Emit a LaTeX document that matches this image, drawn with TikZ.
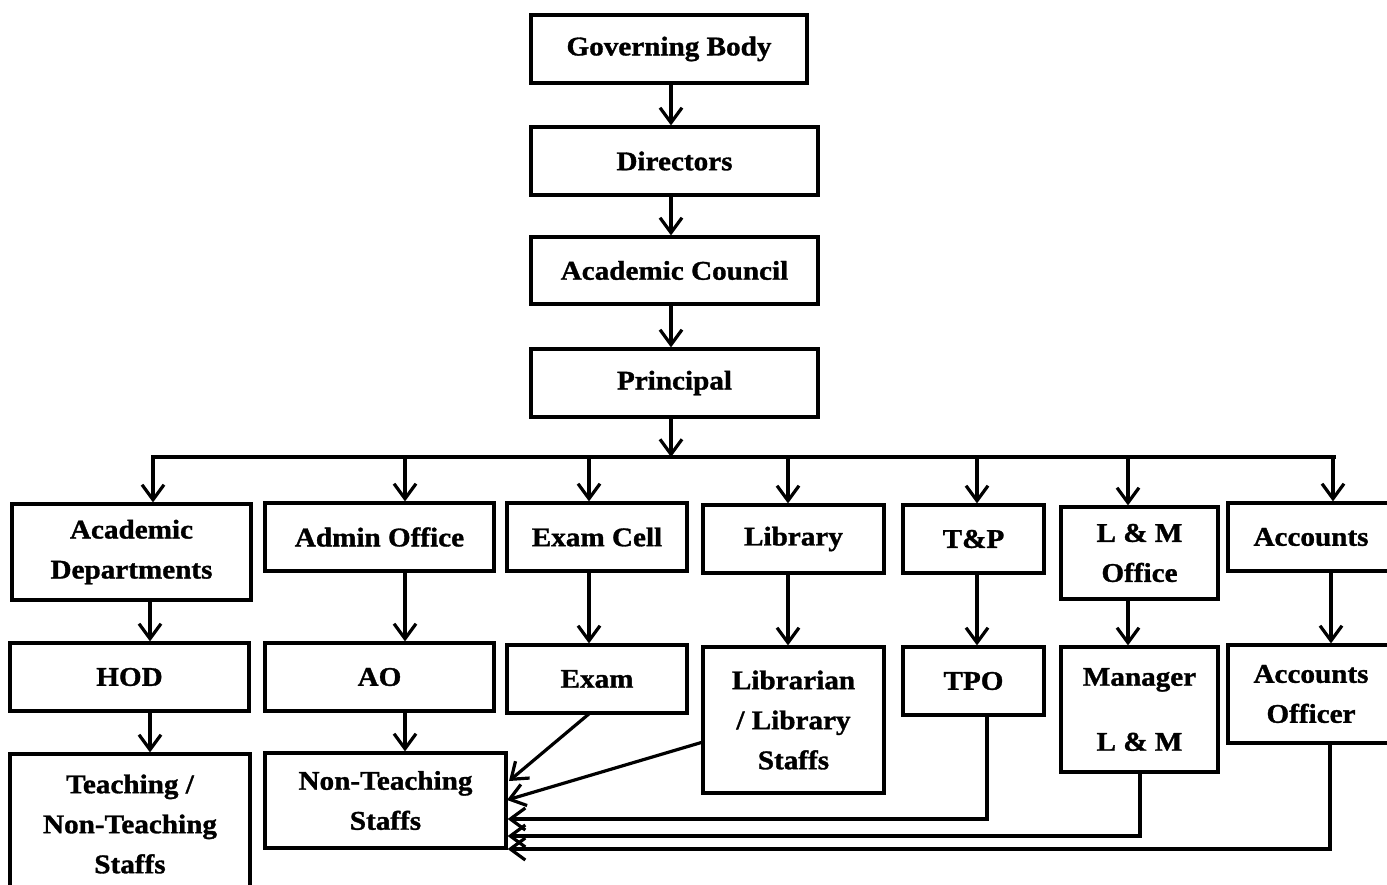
\documentclass[tikz,border=0pt]{standalone}
\usepackage{fontspec}
\setmainfont{Liberation Serif}[FakeStretch=1.08, BoldFeatures={FakeBold=1.2}]
\usetikzlibrary{arrows.meta}
\begin{document}
\begin{tikzpicture}[x=1pt,y=-1pt,
  box/.style={draw, line width=3.2pt, rectangle, inner sep=0pt, align=center,
    font=\bfseries\fontsize{27}{40}\selectfont},
  arr/.style={line width=3.2pt, -{Straight Barb[length=15pt,width=22pt,line width=3.2pt]}},
  ln/.style={line width=3.2pt}]
\path[use as bounding box] (0,0) rectangle (1387,884);
% top column
\node[box, minimum width=276pt, minimum height=68pt] (gb) at (669,49) {Governing Body};
\node[box, minimum width=287pt, minimum height=68pt] (dir) at (674.5,161) {Directors};
\node[box, minimum width=287pt, minimum height=67pt] (ac) at (674.5,270.5) {Academic Council};
\node[box, minimum width=287pt, minimum height=68pt] (pr) at (674.5,383) {Principal};
% second row
\node[box, minimum width=239pt, minimum height=96pt] (ad) at (131.5,552) {Academic\\Departments};
\node[box, minimum width=229pt, minimum height=68pt] (aof) at (379.5,537) {Admin Office};
\node[box, minimum width=180pt, minimum height=68pt] (ec) at (597,537) {Exam Cell};
\node[box, minimum width=181pt, minimum height=68pt] (lib) at (793.5,539) {Library};
\node[box, minimum width=141pt, minimum height=68pt] (tp) at (973.5,539) {T\&P};
\node[box, minimum width=157pt, minimum height=92pt] (lm) at (1139.5,553) {L \& M\\Office};
\node[box, minimum width=166pt, minimum height=68pt] (acc) at (1311,537) {Accounts};
% third row
\node[box, minimum width=239pt, minimum height=68pt] (hod) at (129.5,677) {HOD};
\node[box, minimum width=229pt, minimum height=68pt] (ao) at (379.5,677) {AO};
\node[box, minimum width=180pt, minimum height=68pt] (exam) at (597,679) {Exam};
\node[box, minimum width=181pt, minimum height=146pt] (libn) at (793.5,720) {Librarian\\/ Library\\Staffs};
\node[box, minimum width=141pt, minimum height=68pt] (tpo) at (973.5,681) {TPO};
\node[box, minimum width=157pt, minimum height=125pt] (mgr) at (1139.5,709.5) {Manager\\[25pt]L \& M};
\node[box, minimum width=166pt, minimum height=98pt] (acco) at (1311,694) {Accounts\\Officer};
% fourth row
\node[box, minimum width=240pt, minimum height=140pt] (tns) at (130,824) {Teaching /\\Non-Teaching\\Staffs};
\node[box, minimum width=241pt, minimum height=95pt] (nts) at (385.5,800.5) {Non-Teaching\\Staffs};
% helper coordinates
\coordinate (xc) at (671,0);
\coordinate (busM) at (671,457);
\coordinate (busL) at (153,457);
\coordinate (busR) at (1334,457);
\coordinate (x1) at (153,457);
\coordinate (x2) at (405,457);
\coordinate (x3) at (589,457);
\coordinate (x4) at (788,457);
\coordinate (x5) at (977,457);
\coordinate (x6) at (1128,457);
\coordinate (x7) at (1333,457);
\coordinate (xh) at (150,0);
\coordinate (xa) at (1331,0);
\coordinate (xt) at (987,0);
\coordinate (xm) at (1140,0);
\coordinate (xo) at (1330,0);
\coordinate (yt) at (0,819);
\coordinate (ym) at (0,836);
\coordinate (yo) at (0,849);
\coordinate (e1) at (590,713);
\coordinate (e2) at (509,781);
\coordinate (l1) at (703,742);
\coordinate (l2) at (507,800);
% top arrows
\draw[arr] (xc |- gb.south) -- (xc |- dir.north);
\draw[arr] (xc |- dir.south) -- (xc |- ac.north);
\draw[arr] (xc |- ac.south) -- (xc |- pr.north);
\draw[arr] (xc |- pr.south) -- (busM);
\draw[ln, line cap=rect] (busL) -- (busR);
% drops
\draw[arr] (x1) -- (x1 |- ad.north);
\draw[arr] (x2) -- (x2 |- aof.north);
\draw[arr] (x3) -- (x3 |- ec.north);
\draw[arr] (x4) -- (x4 |- lib.north);
\draw[arr] (x5) -- (x5 |- tp.north);
\draw[arr] (x6) -- (x6 |- lm.north);
\draw[arr] (x7) -- (x7 |- acc.north);
% second level
\draw[arr] (xh |- ad.south) -- (xh |- hod.north);
\draw[arr] (x2 |- aof.south) -- (x2 |- ao.north);
\draw[arr] (x3 |- ec.south) -- (x3 |- exam.north);
\draw[arr] (x4 |- lib.south) -- (x4 |- libn.north);
\draw[arr] (x5 |- tp.south) -- (x5 |- tpo.north);
\draw[arr] (x6 |- lm.south) -- (x6 |- mgr.north);
\draw[arr] (xa |- acc.south) -- (xa |- acco.north);
% third level
\draw[arr] (xh |- hod.south) -- (xh |- tns.north);
\draw[arr] (x2 |- ao.south) -- (x2 |- nts.north);
\draw[arr] (e1) -- (e2);
\draw[arr] (l1) -- (l2);
\draw[arr] (xt |- tpo.south) -- (xt |- yt) -- (nts.east |- yt);
\draw[arr] (xm |- mgr.south) -- (xm |- ym) -- (nts.east |- ym);
\draw[arr] (xo |- acco.south) -- (xo |- yo) -- (nts.east |- yo);
\end{tikzpicture}
\end{document}
